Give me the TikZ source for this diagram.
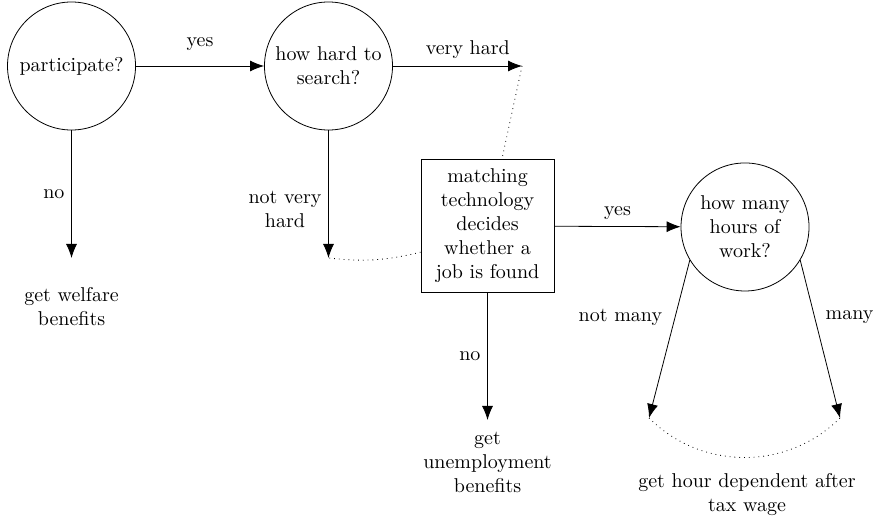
\documentclass[tikz,border=0pt]{standalone}
\usepackage{amssymb,amsmath}
\usepackage{tikz}
\usetikzlibrary{positioning,shapes,calc,arrows.meta}

\tikzset{
  question/.style={circle, draw, minimum size=2.25cm, inner sep=0pt, align=center},
  matchbox/.style={rectangle, draw, minimum size=2.34cm, align=center},
  outcome/.style={align=center}
}

\begin{document}
\begin{tikzpicture}[->, >={Latex[length=7pt,width=5.5pt]}]
  \useasboundingbox (0,0) rectangle (15.43,-9.16);
  \node[question] (part) at (1.257,-1.16) {participate?};
  \node[question] (hard) at (5.773,-1.16) {how hard to\\search?};
  \node[matchbox] (match) at (8.568,-3.972) {matching\\technology\\decides\\whether a\\job is found};
  \node[question] (hours) at (13.093,-3.989) {how many\\hours of\\work?};
  \coordinate (veryhard) at (9.174,-1.16);
  \coordinate (welfare) at (1.257,-4.534);
  \coordinate (notvery) at (5.773,-4.534);
  \coordinate (unemp) at (8.568,-7.381);
  \coordinate (notmany) at (11.406,-7.346);
  \coordinate (many) at (14.763,-7.346);
  \node[outcome] (welfaretxt) at (1.257,-5.395) {get welfare\\benefits};
  \node[outcome] (unemptxt) at (8.568,-8.12) {get\\unemployment\\benefits};
  \node[outcome] (hourtxt) at (13.128,-8.699) {get hour dependent after\\tax wage};
  \path
    (part) edge node[above=4pt] {yes} (hard)
    (part) edge node[left] {no} (welfare)
    (hard) edge node[above, pos=0.58] {very hard} (veryhard)
    (hard) edge node[left, pos=0.62, align=center] {not very\\hard} (notvery)
    (match) edge node[above] {yes} (hours)
    (match) edge node[left] {no} (unemp)
    (hours.211) edge node[left=3pt, pos=0.36] {not many} (notmany)
    (hours.329) edge node[right=2pt, pos=0.36] {many} (many);
  \path[-, dotted]
    (veryhard) edge (match)
    (match) edge [bend left=10] (notvery)
    (notmany) edge [bend right=45] (many);
\end{tikzpicture}
\end{document}
